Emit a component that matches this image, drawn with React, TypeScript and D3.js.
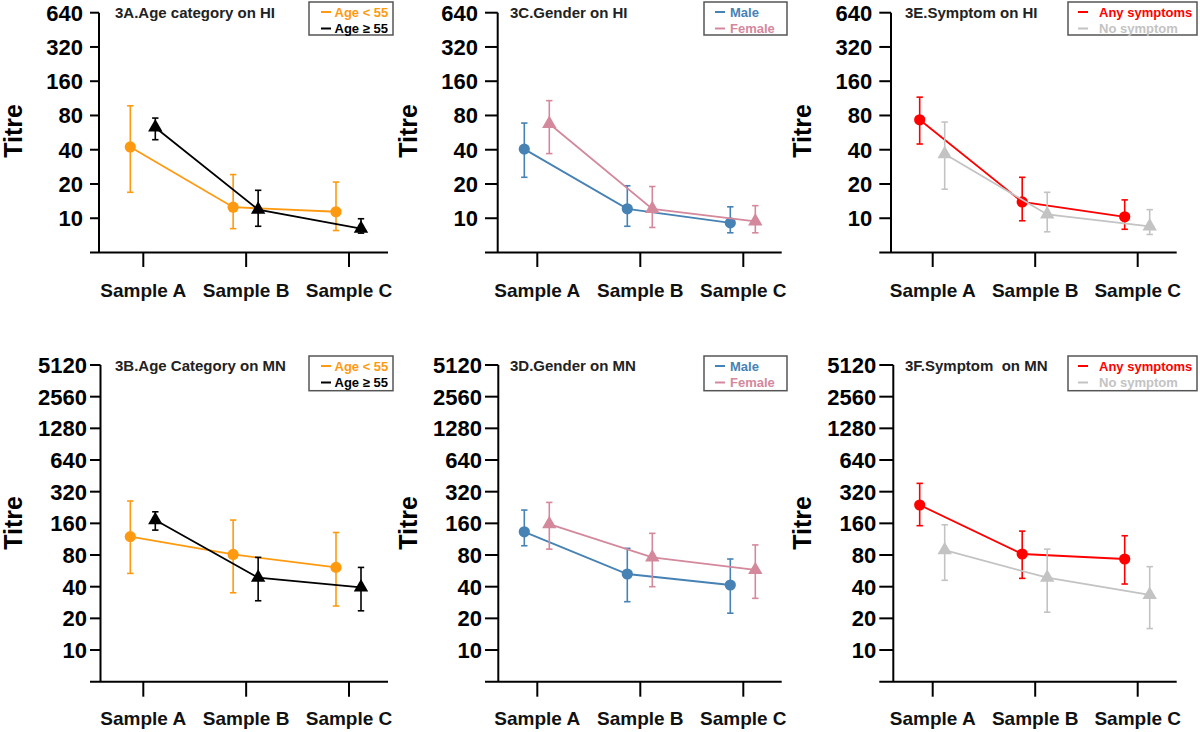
import React from "react";
import * as d3 from "d3";

// ---------- DATA ----------
const samples = ["Sample A", "Sample B", "Sample C"];
const hiTicks = [10, 20, 40, 80, 160, 320, 640];
const mnTicks = [10, 20, 40, 80, 160, 320, 640, 1280, 2560, 5120];

// 3A Age category on HI
const ageHI_lt55 = [42.3, 12.5, 11.4];
const ageHI_lt55_lo = [16.9, 8.1, 7.8];
const ageHI_lt55_hi = [97.3, 24.2, 20.8];
const ageHI_ge55 = [62.8, 11.9, 8.1];
const ageHI_ge55_lo = [49, 8.5, 7.4];
const ageHI_ge55_hi = [75.9, 17.6, 9.9];

// 3B Age category on MN
const ageMN_lt55 = [119.6, 81, 61];
const ageMN_lt55_lo = [53.5, 35, 26.2];
const ageMN_lt55_hi = [261, 172, 131];
const ageMN_ge55 = [172, 48.7, 39.4];
const ageMN_ge55_lo = [138, 29.4, 23.6];
const ageMN_ge55_hi = [206, 76, 61];

// 3C Gender on HI
const genHI_male = [40.5, 12.1, 9.1];
const genHI_male_lo = [22.9, 8.5, 7.45];
const genHI_male_hi = [68.6, 19.3, 12.6];
const genHI_female = [67.6, 12.1, 9.4];
const genHI_female_lo = [37, 8.3, 7.45];
const genHI_female_hi = [108, 19, 12.9];

// 3D Gender on MN
const genMN_male = [133, 52.8, 41.5];
const genMN_male_lo = [98, 28.8, 22.4];
const genMN_male_hi = [214, 92.6, 73.3];
const genMN_female = [157.5, 76, 57.7];
const genMN_female_lo = [91, 40, 31];
const genMN_female_hi = [253, 128.6, 99.8];

// 3E Symptom on HI
const symHI_any = [73.3, 13.9, 10.3];
const symHI_any_lo = [44.9, 9.5, 8.0];
const symHI_any_hi = [115.9, 22.9, 14.5];
const symHI_no = [36.7, 10.8, 8.5];
const symHI_no_lo = [18, 7.6, 7.2];
const symHI_no_hi = [70, 16.9, 11.9];

// 3F Symptom on MN
const symMN_any = [239, 81.8, 73.3];
const symMN_any_lo = [152, 48, 42.4];
const symMN_any_hi = [384, 135, 122];
const symMN_no = [89, 48.7, 33.4];
const symMN_no_lo = [46, 22.9, 16];
const symMN_no_hi = [155, 91, 62];

// ---------- STYLE ----------
const ORANGE = "#FF9A10";
const BLACK = "#000000";
const BLUE = "#4682B4";
const PINK = "#D4889C";
const RED = "#FF0000";
const GRAY = "#C3C3C3";
const FONT = "'Liberation Sans', Arial, Helvetica, sans-serif";

type Series = { label: string; color: string; shape: "circle" | "triangle"; mean: number[]; lo: number[]; hi: number[] };
type PanelCfg = { title: string; row: 0 | 1; col: 0 | 1 | 2; ticks: number[]; series: Series[] };

const mk = (label: string, color: string, shape: "circle" | "triangle", mean: number[], lo: number[], hi: number[]): Series => ({ label, color, shape, mean, lo, hi });

const panels: PanelCfg[] = [
  { title: "3A.Age category on HI", row: 0, col: 0, ticks: hiTicks, series: [
    mk("Age < 55", ORANGE, "circle", ageHI_lt55, ageHI_lt55_lo, ageHI_lt55_hi),
    mk("Age \u2265 55", BLACK, "triangle", ageHI_ge55, ageHI_ge55_lo, ageHI_ge55_hi)] },
  { title: "3C.Gender on HI", row: 0, col: 1, ticks: hiTicks, series: [
    mk("Male", BLUE, "circle", genHI_male, genHI_male_lo, genHI_male_hi),
    mk("Female", PINK, "triangle", genHI_female, genHI_female_lo, genHI_female_hi)] },
  { title: "3E.Symptom on HI", row: 0, col: 2, ticks: hiTicks, series: [
    mk("Any symptoms", RED, "circle", symHI_any, symHI_any_lo, symHI_any_hi),
    mk("No symptom", GRAY, "triangle", symHI_no, symHI_no_lo, symHI_no_hi)] },
  { title: "3B.Age Category on MN", row: 1, col: 0, ticks: mnTicks, series: [
    mk("Age < 55", ORANGE, "circle", ageMN_lt55, ageMN_lt55_lo, ageMN_lt55_hi),
    mk("Age \u2265 55", BLACK, "triangle", ageMN_ge55, ageMN_ge55_lo, ageMN_ge55_hi)] },
  { title: "3D.Gender on MN", row: 1, col: 1, ticks: mnTicks, series: [
    mk("Male", BLUE, "circle", genMN_male, genMN_male_lo, genMN_male_hi),
    mk("Female", PINK, "triangle", genMN_female, genMN_female_lo, genMN_female_hi)] },
  { title: "3F.Symptom  on MN", row: 1, col: 2, ticks: mnTicks, series: [
    mk("Any symptoms", RED, "circle", symMN_any, symMN_any_lo, symMN_any_hi),
    mk("No symptom", GRAY, "triangle", symMN_no, symMN_no_lo, symMN_no_hi)] },
];

// ---------- LAYOUT ----------
const rows = [
  { top: 12.7, bottom: 252.5, tickEnd: 267, labelY: 297, titleY: 18, legY1: 2, legY2: 35, legR1: 16.5, legR2: 33, titreY: 131, labelGap: 7 },
  { top: 365, bottom: 681.7, tickEnd: 696.7, labelY: 725, titleY: 371, legY1: 356, legY2: 390.7, legR1: 370.5, legR2: 387, titreY: 523, labelGap: 3 },
];
const cols = [
  { axisX: [99, 100.5], xs: 90, xe: 388, t0: 143.3, t2: 349, titleX: 115, titreX: 13, legX1: 309, legX2: 393, legL: 321, legT: 334.5 },
  { axisX: [497.7, 498.3], xs: 485, xe: 781.7, t0: 537.3, t2: 743.3, titleX: 510, titreX: 408, legX1: 704, legX2: 787, legL: 715, legT: 730 },
  { axisX: [891, 893.3], xs: 879.3, xe: 1176.7, t0: 932.7, t2: 1137.7, titleX: 905, titreX: 802, legX1: 1068, legX2: 1197, legL: 1078, legT: 1099 },
];
const DODGE = [-13, 12];

function Panel({ cfg }: { cfg: PanelCfg }) {
  const r = rows[cfg.row];
  const c = cols[cfg.col];
  const axisX = c.axisX[cfg.row];
  const maxT = cfg.ticks[cfg.ticks.length - 1];
  const y = d3.scaleLog().base(2).domain([5, maxT]).range([r.bottom, r.top]);
  const x = d3.scalePoint<string>().domain(samples).range([c.t0, c.t2]);
  const line = d3.line<[number, number]>().x((d) => d[0]).y((d) => d[1]);
  const tri = d3.symbol().type(d3.symbolTriangle).size(90)();

  return (
    <g>
      {/* title */}
      <text x={c.titleX} y={r.titleY} fontFamily={FONT} fontWeight="bold" fontSize={15} fill="#222" style={{ whiteSpace: "pre" }}>{cfg.title}</text>
      {/* Titre */}
      <text transform={`translate(${c.titreX + 9},${r.titreY}) rotate(-90)`} textAnchor="middle" fontFamily={FONT} fontWeight="bold" fontSize={25} fill="#000">Titre</text>
      {/* y axis */}
      <line x1={axisX} x2={axisX} y1={y(maxT)} y2={r.bottom} stroke="#000" strokeWidth={2} />
      {cfg.ticks.map((t) => (
        <g key={t}>
          <line x1={c.xs} x2={axisX} y1={y(t)} y2={y(t)} stroke="#000" strokeWidth={2} />
          <text x={c.xs - r.labelGap} y={y(t)} dy="0.36em" textAnchor="end" fontFamily={FONT} fontWeight="bold" fontSize={22} fill="#000">{t}</text>
        </g>
      ))}
      {/* x axis */}
      <line x1={c.xs} x2={c.xe} y1={r.bottom} y2={r.bottom} stroke="#000" strokeWidth={2} />
      {samples.map((s) => (
        <g key={s}>
          <line x1={x(s)} x2={x(s)} y1={r.bottom} y2={r.tickEnd} stroke="#000" strokeWidth={2} />
          <text x={x(s)} y={r.labelY} textAnchor="middle" fontFamily={FONT} fontWeight="bold" fontSize={19} fill="#111">{s}</text>
        </g>
      ))}
      {/* series */}
      {cfg.series.map((se, si) => {
        const pts: [number, number][] = samples.map((s, i) => [(x(s) as number) + DODGE[si], y(se.mean[i])]);
        return (
          <g key={se.label}>
            <path d={line(pts) || ""} fill="none" stroke={se.color} strokeWidth={1.8} />
            {samples.map((s, i) => {
              const px = pts[i][0];
              return (
                <g key={s}>
                  <line x1={px} x2={px} y1={y(se.lo[i])} y2={y(se.hi[i])} stroke={se.color} strokeWidth={1.6} />
                  <line x1={px - 3.2} x2={px + 3.2} y1={y(se.lo[i])} y2={y(se.lo[i])} stroke={se.color} strokeWidth={1.6} />
                  <line x1={px - 3.2} x2={px + 3.2} y1={y(se.hi[i])} y2={y(se.hi[i])} stroke={se.color} strokeWidth={1.6} />
                  {se.shape === "circle" ? (
                    <circle cx={px} cy={pts[i][1]} r={5.6} fill={se.color} />
                  ) : (
                    <path d={tri || ""} transform={`translate(${px},${pts[i][1]})`} fill={se.color} />
                  )}
                </g>
              );
            })}
          </g>
        );
      })}
      {/* legend */}
      <rect x={c.legX1} y={r.legY1} width={c.legX2 - c.legX1} height={r.legY2 - r.legY1} fill="#fff" stroke="#555" strokeWidth={1.5} />
      {cfg.series.map((se, si) => {
        const ty = si === 0 ? r.legR1 : r.legR2;
        return (
          <g key={se.label}>
            <line x1={c.legL} x2={c.legL + 10} y1={ty - 4.5} y2={ty - 4.5} stroke={se.color} strokeWidth={2} />
            <text x={c.legT} y={ty} fontFamily={FONT} fontWeight="bold" fontSize={13} fill={se.color}>{se.label}</text>
          </g>
        );
      })}
    </g>
  );
}

export default function App() {
  return (
    <svg width={1200} height={732} style={{ position: "absolute", left: 0, top: 0, background: "#fff" }}>
      <rect width={1200} height={732} fill="#fff" />
      {panels.map((p) => (
        <Panel key={p.title} cfg={p} />
      ))}
    </svg>
  );
}
